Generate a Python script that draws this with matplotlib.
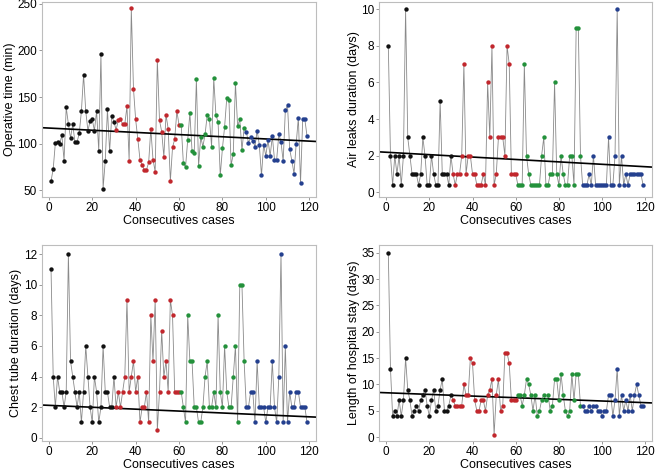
import matplotlib
matplotlib.use('Agg')
import matplotlib.pyplot as plt
import numpy as np

plt.rcParams['font.family'] = ['Liberation Sans', 'DejaVu Sans']

# values, cases 1..119, four groups of 30 (black, red, green, blue)
op_time = [60, 73, 101, 102, 100, 109, 82, 139, 121, 106, 121, 102, 102, 111, 135, 174, 135, 114, 124, 126,
           114, 135, 92, 196, 52, 82, 137, 92, 130, 123,
           115, 125, 126, 121, 121, 140, 82, 245, 159, 126, 105, 83, 77, 72, 72, 80, 116, 83, 70, 190,
           125, 113, 86, 131, 116, 60, 96, 105, 135, 120,
           120, 79, 75, 104, 133, 92, 90, 169, 76, 107, 97, 110, 131, 127, 97, 170, 131, 123, 66, 95,
           118, 149, 147, 77, 89, 165, 119, 126, 93, 117,
           113, 101, 107, 103, 97, 114, 99, 66, 99, 87, 104, 87, 108, 83, 83, 110, 102, 81, 136, 141,
           94, 82, 68, 100, 128, 58, 126, 126, 108]

air_leaks = [8, 2, 0.4, 2, 1, 2, 0.4, 2, 10, 3, 2, 1, 1, 1, 0.4, 1, 3, 2, 0.4, 0.4,
             2, 1, 0.4, 0.4, 5, 1, 1, 1, 0.4, 2,
             1, 0.4, 1, 1, 2, 7, 1, 2, 2, 1, 1, 0.4, 0.4, 0.4, 1, 0.4, 6, 3, 8, 0.4,
             1, 3, 3, 3, 2, 8, 7, 1, 1, 1,
             0.4, 0.4, 0.4, 7, 2, 1, 0.4, 0.4, 0.4, 0.4, 0.4, 2, 3, 0.4, 0.4, 1, 1, 6, 1, 0.4,
             2, 1, 0.4, 0.4, 2, 2, 0.4, 9, 9, 2,
             0.4, 0.4, 0.4, 1, 0.4, 2, 0.4, 0.4, 0.4, 0.4, 0.4, 0.4, 3, 0.4, 0.4, 2, 10, 0.4, 2, 0.4,
             1, 0.4, 1, 1, 1, 1, 1, 1, 0.4]

chest_tube = [11, 4, 2, 4, 3, 3, 2, 3, 12, 5, 4, 3, 2, 3, 1, 3, 6, 4, 2, 1,
              4, 3, 1, 2, 6, 3, 3, 2, 2, 4,
              2, 3, 2, 3, 4, 9, 3, 4, 5, 3, 4, 1, 2, 2, 3, 1, 8, 5, 9, 0.5,
              3, 7, 4, 5, 3, 9, 8, 3, 3, 3,
              3, 2, 1, 8, 5, 5, 2, 2, 1, 1, 2, 4, 5, 2, 2, 3, 2, 8, 3, 2,
              6, 3, 2, 2, 4, 6, 1, 10, 10, 5,
              2, 2, 3, 3, 1, 5, 2, 2, 2, 1, 2, 2, 5, 2, 1, 4, 12, 1, 6, 1,
              3, 2, 2, 3, 3, 2, 2, 2, 1]

hospital_stay = [35, 13, 4, 5, 4, 7, 4, 7, 15, 9, 7, 4, 5, 6, 5, 7, 8, 9, 6, 4,
                 7, 9, 5, 6, 9, 11, 5, 5, 6, 8,
                 7, 6, 6, 6, 6, 10, 8, 8, 15, 14, 7, 5, 5, 7, 7, 5, 8, 9, 11, 0.5,
                 8, 11, 5, 6, 16, 16, 14, 7, 7, 7,
                 8, 8, 6, 8, 11, 10, 8, 5, 8, 4, 5, 7, 8, 7, 8, 5, 6, 11, 11, 7,
                 12, 8, 5, 4, 5, 12, 7, 12, 12, 6,
                 6, 5, 5, 6, 5, 6, 6, 5, 5, 4, 5, 5, 8, 8, 4, 7, 13, 4, 8, 5,
                 7, 5, 8, 5, 8, 10, 8, 6, 6]

# trend lines as drawn in the figure: value at case 0 and at case 120
trend_at_0 = [116.8, 2.19, 2.12, 8.43]
trend_at_120 = [102.8, 1.40, 1.37, 6.55]

y_labels = ['Operative time (min)', 'Air leaks duration (days)',
            'Chest tube duration (days)', 'Length of hospital stay (days)']
group_colors = ['#111111', '#c1272d', '#23913b', '#24408f']
group_size = 30

fig = plt.figure(figsize=(6.55, 4.70), dpi=100)
boxes = [[0.064, 0.581, 0.419, 0.415],
         [0.579, 0.581, 0.417, 0.415],
         [0.064, 0.062, 0.419, 0.417],
         [0.579, 0.062, 0.417, 0.417]]
ylims = [(43, 252), (-0.25, 10.4), (-0.2, 12.6), (-0.7, 36.5)]
yticks = [range(50, 251, 50), range(0, 11, 2), range(0, 13, 2), range(0, 36, 5)]
xlim = (-3.2, 123.3)

for k, vals in enumerate([op_time, air_leaks, chest_tube, hospital_stay]):
    ax = fig.add_axes(boxes[k])
    vals = np.array(vals, dtype=float)
    cases = np.arange(1, len(vals) + 1)
    ax.plot(cases, vals, color='#8a8a8a', lw=0.6, zorder=1)
    groups = (cases - 1) // group_size
    for g in range(4):
        m = groups == g
        ax.scatter(cases[m], vals[m], s=10, color=group_colors[g], zorder=3, linewidths=0)
    slope = (trend_at_120[k] - trend_at_0[k]) / 120
    xx = np.array(xlim)
    ax.plot(xx, trend_at_0[k] + slope * xx, color='black', lw=1.2, zorder=2)
    ax.set_xlim(xlim)
    ax.set_ylim(ylims[k])
    ax.set_xticks(range(0, 121, 20))
    ax.set_yticks(yticks[k])
    for s in ax.spines.values():
        s.set_color('#bdbdbd')
        s.set_linewidth(0.8)
    ax.tick_params(length=2.5, width=0.6, color='#888888', labelsize=8.5, pad=1)
    ax.set_xlabel('Consecutives cases', fontsize=9, labelpad=1)
    ax.set_ylabel(y_labels[k], fontsize=9, labelpad=1)

fig.savefig('out.png', dpi=100)
